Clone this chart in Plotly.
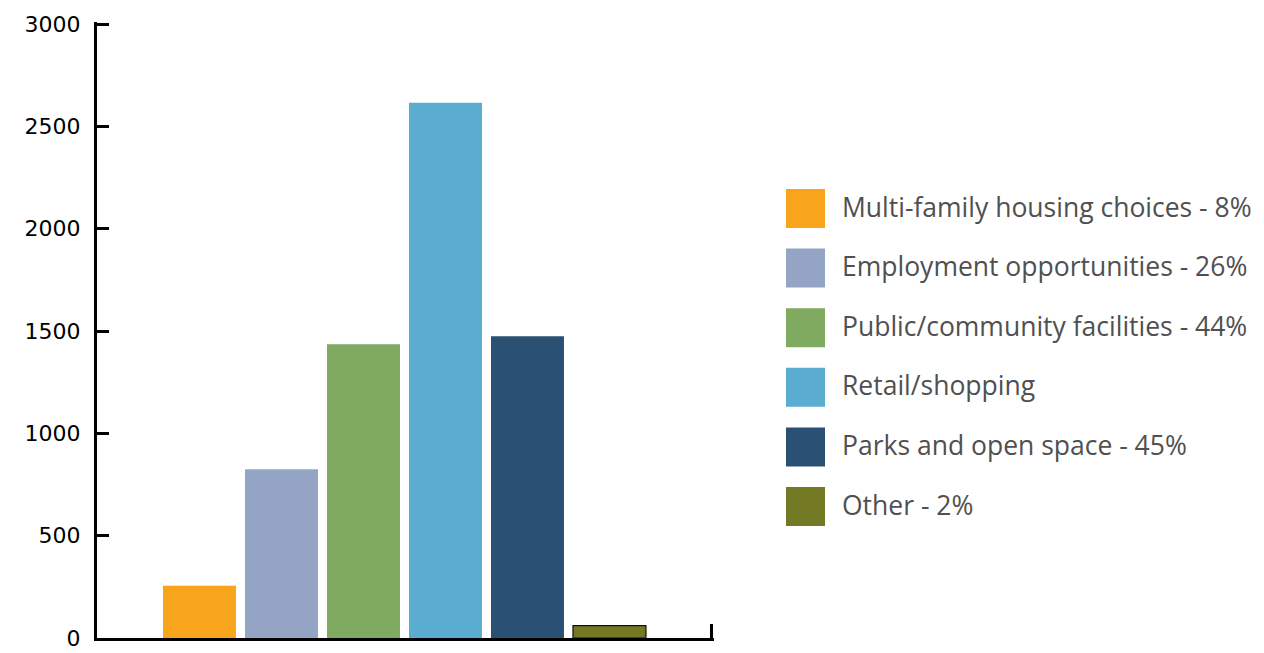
import plotly.graph_objects as go

categories = ["Multi-family housing choices - 8%", "Employment opportunities - 26%",
              "Public/community facilities - 44%", "Retail/shopping",
              "Parks and open space - 45%", "Other - 2%"]
values = [255, 825, 1435, 2615, 1475, 60]
colors = ["#F8A51B", "#93A4C5", "#80AA5F", "#5AADD1", "#2A5173", "#737A23"]
line_widths = [0, 0, 0, 0, 0, 1.2]
y_ticks = [0, 500, 1000, 1500, 2000, 2500, 3000]

W, H = 1264, 653
# plot area: x 97..714 (range slightly past 0.5 so the end tick is kept), y 22..638
L, R, T, B = 97, W - 714, 22, H - 638
y_range = [0, 3010]
x_range = [-0.5, 0.5033]

fig = go.Figure()
for name, v, c, lw in zip(categories, values, colors, line_widths):
    fig.add_trace(go.Bar(x=[0], y=[v], name=name, marker_color=c,
                         marker_line_color="#111", marker_line_width=lw,
                         showlegend=False))

# custom legend (large swatches)
pw, ph = W - L - R, H - T - B
def px2x(px):
    return (px - L) / pw
def py2y(py):
    return (H - B - py) / ph

leg_top, leg_step, sw = 208.5, 59.6, 39
for i, (name, c) in enumerate(zip(categories, colors)):
    cy = leg_top + i * leg_step
    fig.add_shape(type="rect", xref="paper", yref="paper",
                  x0=px2x(786), x1=px2x(786 + sw),
                  y0=py2y(cy + sw / 2), y1=py2y(cy - sw / 2),
                  fillcolor=c, line_width=0)
    fig.add_annotation(xref="paper", yref="paper", x=px2x(840), y=py2y(cy - 2),
                       text=name, showarrow=False, xanchor="left", yanchor="middle",
                       font=dict(family="Open Sans", size=26.5, color="#505050"))

fig.update_layout(
    width=W, height=H,
    margin=dict(l=L, r=R, t=T, b=B, autoexpand=False),
    plot_bgcolor="white", paper_bgcolor="white",
    barmode="group", bargap=0.2, bargroupgap=0.11,
    showlegend=False,
    font=dict(family="DejaVu Sans", size=22, color="black"),
)
fig.update_yaxes(range=y_range, tickmode="array", tickvals=y_ticks, showgrid=False,
                 zeroline=False, showline=True, linecolor="black", linewidth=3,
                 automargin=False, ticks="inside", ticklen=12, tickwidth=3,
                 tickcolor="black", ticklabelstandoff=9)
fig.update_xaxes(range=x_range, tickmode="array", tickvals=[-0.5, 0.5],
                 showgrid=False, zeroline=False, showline=True, linecolor="black",
                 linewidth=3, ticks="inside", ticklen=14, tickwidth=3,
                 tickcolor="black", showticklabels=False, automargin=False)

fig.write_html("out.html")
